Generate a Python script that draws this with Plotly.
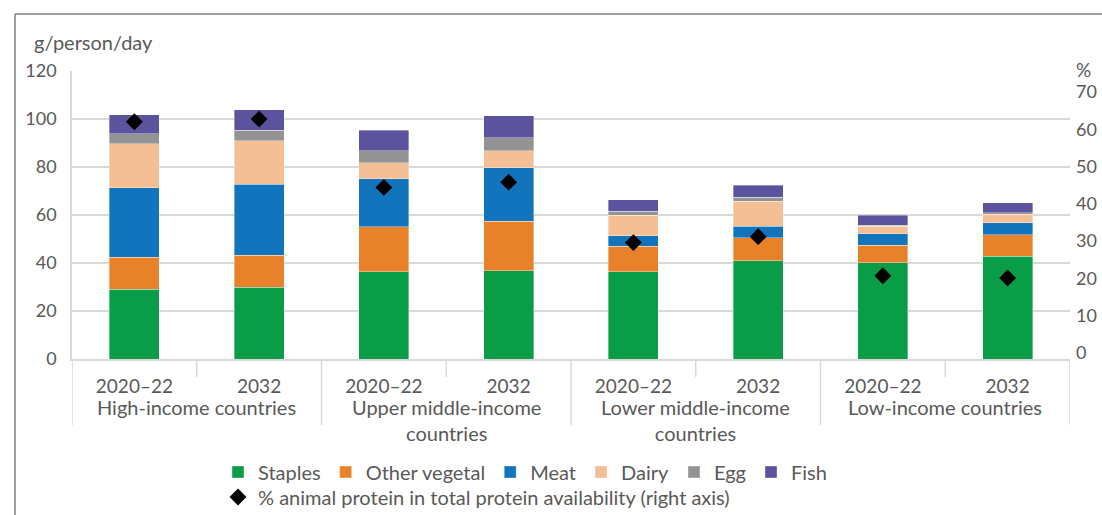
import plotly.graph_objects as go

# ---- data ----
groups = ["High-income countries", "Upper middle-income<br>countries",
          "Lower middle-income<br>countries", "Low-income countries"]
years = ["2020–22", "2032", "2020–22", "2032", "2020–22", "2032", "2020–22", "2032"]
staples = [29.0, 29.9, 36.4, 36.8, 36.4, 41.0, 40.1, 42.9]
other_vegetal = [13.4, 13.3, 18.7, 20.7, 10.5, 9.5, 7.4, 8.9]
meat = [29.0, 29.7, 20.0, 22.1, 4.4, 4.9, 4.6, 5.0]
dairy = [18.2, 18.1, 6.6, 7.2, 8.7, 10.3, 3.3, 3.6]
egg = [4.3, 4.4, 5.0, 5.3, 1.5, 1.8, 0.4, 0.6]
fish = [7.9, 8.5, 8.7, 9.2, 4.8, 5.0, 4.2, 4.1]
animal_share = [62.0, 62.7, 44.4, 45.8, 29.6, 31.2, 20.7, 20.1]

left_ticks = [0, 20, 40, 60, 80, 100, 120]
right_ticks = [0, 10, 20, 30, 40, 50, 60, 70]

# ---- styling ----
FONT = "Lato"
GREY = "#595959"
GRID = "#d9d9d9"
W, H = 1102, 515
L, R, T, B = 72, 32, 71, 156
PW, PH = W - L - R, H - T - B

def py(p):
    return (H - B - p) / PH

xs = list(range(len(years)))

fig = go.Figure()
series = [
    ("Staples", staples, "#0a9d48"),
    ("Other vegetal", other_vegetal, "#e8822a"),
    ("Meat", meat, "#1174bc"),
    ("Dairy", dairy, "#f4bf94"),
    ("Egg", egg, "#939393"),
    ("Fish", fish, "#5b539e"),
]
for name, vals, col in series:
    fig.add_trace(go.Bar(x=xs, y=vals, name=name, marker_color=col,
                         marker_line=dict(color="rgba(255,255,255,0.6)", width=0.6),
                         legend="legend"))

fig.add_trace(go.Scatter(x=xs, y=animal_share, mode="markers", yaxis="y2",
                         name="% animal protein in total protein availability (right axis)",
                         marker=dict(symbol="diamond", size=13, color="black"),
                         legend="legend2"))

shapes = []
# frame
shapes.append(dict(type="line", xref="paper", yref="paper",
                   x0=(15 - L) / PW, x1=(W + 5 - L) / PW, y0=py(14), y1=py(14),
                   line=dict(color="#808080", width=1.5)))
shapes.append(dict(type="line", xref="paper", yref="paper",
                   x0=(15 - L) / PW, x1=(15 - L) / PW, y0=py(14), y1=py(H + 5),
                   line=dict(color="#808080", width=1.5)))
# category dividers
for xv in [-0.5, 1.5, 3.5, 5.5, 7.5]:
    shapes.append(dict(type="line", xref="x", yref="paper", x0=xv, x1=xv,
                       y0=0, y1=py(425), line=dict(color=GRID, width=1.5)))
for xv in [0.5, 2.5, 4.5, 6.5]:
    shapes.append(dict(type="line", xref="x", yref="paper", x0=xv, x1=xv,
                       y0=0, y1=py(377), line=dict(color=GRID, width=1.5)))

annotations = []
for i, g in enumerate(groups):
    annotations.append(dict(x=2 * i + 0.5, xref="x", y=py(393), yref="paper",
                            text=g, showarrow=False, yanchor="top", xanchor="center",
                            font=dict(family=FONT, size=20, color=GREY)))
annotations.append(dict(x=(32 - L) / PW, xref="paper", y=py(42), yref="paper",
                        text="g/person/day", showarrow=False, xanchor="left", yanchor="middle",
                        font=dict(family=FONT, size=20, color=GREY)))
annotations.append(dict(x=(1074 - L) / PW, xref="paper", y=py(70), yref="paper",
                        text="%", showarrow=False, xanchor="left", yanchor="middle",
                        font=dict(family=FONT, size=19, color=GREY)))

fig.update_layout(
    width=W, height=H,
    margin=dict(l=L, r=R, t=T, b=B, autoexpand=False),
    paper_bgcolor="white", plot_bgcolor="white",
    barmode="stack", bargap=0.6,
    font=dict(family=FONT, size=18, color=GREY),
    xaxis=dict(range=[-0.5, 7.5], tickvals=xs, ticktext=years, showgrid=False,
               zeroline=False, showline=True, linecolor=GRID, linewidth=1.5,
               ticks="", ticklabelstandoff=9, tickfont=dict(size=19, color=GREY)),
    yaxis=dict(range=[0, 120], tickvals=left_ticks, showgrid=True, gridcolor=GRID,
               gridwidth=1.5, zeroline=False, showline=True, linecolor=GRID,
               linewidth=1.5, ticks="", ticklabelstandoff=10,
               tickfont=dict(size=18, color=GREY)),
    yaxis2=dict(overlaying="y", side="right", range=[-1.6, 75.6], tickvals=right_ticks,
                showgrid=False, zeroline=False, showline=False, ticks="",
                ticklabelstandoff=5, tickfont=dict(size=18, color=GREY)),
    legend=dict(orientation="h", x=(218 - L) / PW, xanchor="left", y=py(472),
                yanchor="middle", font=dict(family=FONT, size=20, color=GREY),
                bgcolor="rgba(0,0,0,0)", traceorder="normal"),
    legend2=dict(orientation="h", x=(218 - L) / PW, xanchor="left", y=py(497),
                 yanchor="middle", font=dict(family=FONT, size=20, color=GREY),
                 bgcolor="rgba(0,0,0,0)"),
    shapes=shapes, annotations=annotations,
    showlegend=True,
)

fig.write_html("out.html", config={"displayModeBar": False},
               post_script="document.body.style.margin='0';")
